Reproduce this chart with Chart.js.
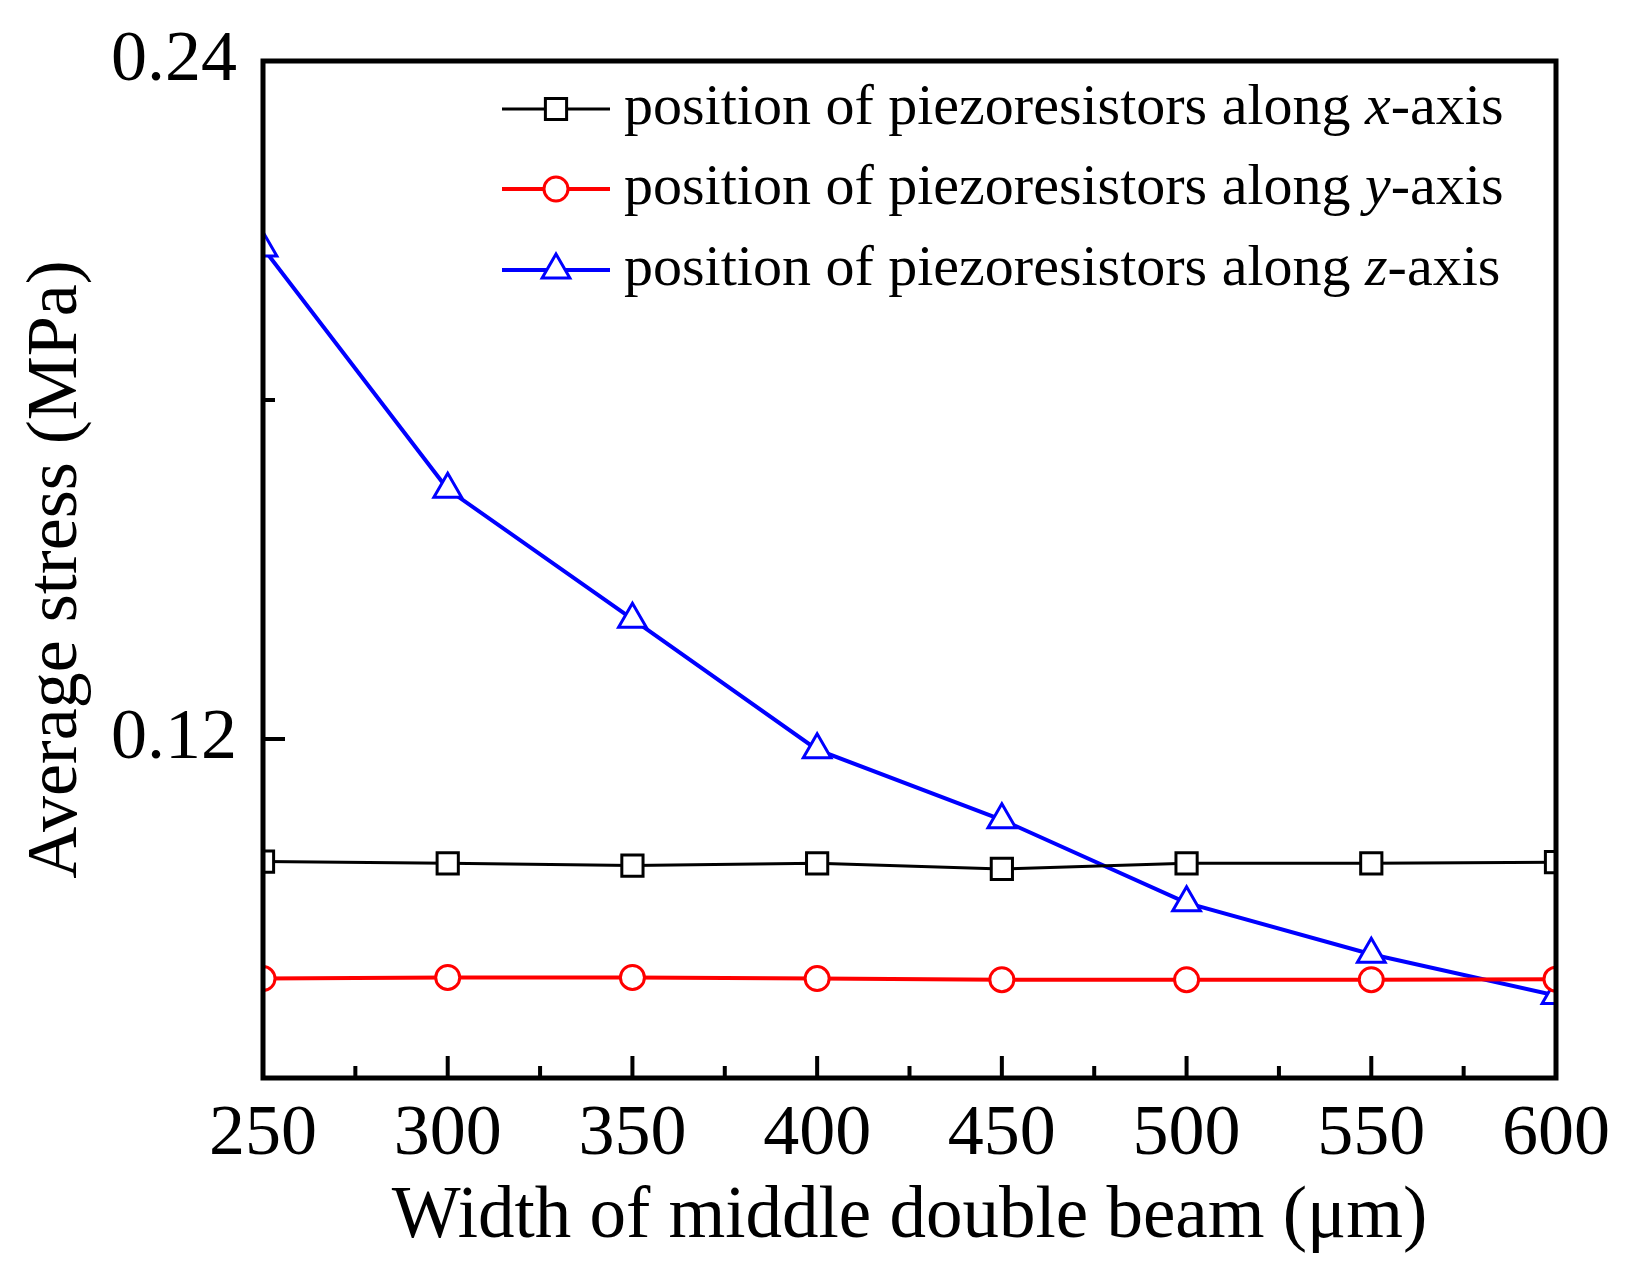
<!DOCTYPE html>
<html>
<head>
<meta charset="utf-8">
<script src="https://cdn.jsdelivr.net/npm/chart.js@4.4.1/dist/chart.umd.min.js"></script>
<style>
  html, body { margin: 0; padding: 0; background: #ffffff; }
  #wrap { width: 1632px; height: 1267px; }
  canvas { display: block; }
</style>
</head>
<body>
<div id="wrap"><canvas id="c" width="1632" height="1267"></canvas></div>
<script>
// ---- data ----
const beamWidths = [250, 300, 350, 400, 450, 500, 550, 600];
const stressAlongX = [0.0983, 0.0980, 0.0976, 0.0980, 0.0970, 0.0980, 0.0980, 0.0982];
const stressAlongY = [0.0776, 0.0778, 0.0778, 0.0776, 0.0774, 0.0774, 0.0774, 0.0775];
const stressAlongZ = [0.2069, 0.1642, 0.1412, 0.1181, 0.1057, 0.0910, 0.0819, 0.0746];

const xTickValues = [250, 300, 350, 400, 450, 500, 550, 600];
const xMinorTickValues = [275, 325, 375, 425, 475, 525, 575];
const yTickValues = [0.12, 0.24];
const yTickLabels = ['0.12', '0.24'];
const yMinorTickValues = [0.18];

const legendPrefix = 'position of piezoresistors along ';
const legendAxisLetters = ['x', 'y', 'z'];
const legendSuffix = '-axis';

const xTitle = 'Width of middle double beam (\u03bcm)';
const yTitle = 'Average stress (MPa)';

const FONT = "'Liberation Serif', 'Times New Roman', serif";

function pairs(ys) { return beamWidths.map((x, i) => ({ x: x, y: ys[i] })); }

// ---- plugins (axes decoration & legend) ----
const framePlugin = {
  id: 'frame',
  afterDraw(chart) {
    const ctx = chart.ctx;
    const a = chart.chartArea;
    const xs = chart.scales.x, ys = chart.scales.y;
    ctx.save();
    ctx.strokeStyle = '#000';
    ctx.lineCap = 'butt';
    ctx.lineWidth = 4;
    const majorLen = 22, minorLen = 12;
    ctx.beginPath();
    xTickValues.forEach(v => {
      const px = xs.getPixelForValue(v);
      ctx.moveTo(px, a.bottom); ctx.lineTo(px, a.bottom - majorLen);
    });
    xMinorTickValues.forEach(v => {
      const px = xs.getPixelForValue(v);
      ctx.moveTo(px, a.bottom); ctx.lineTo(px, a.bottom - minorLen);
    });
    yTickValues.forEach(v => {
      const py = ys.getPixelForValue(v);
      ctx.moveTo(a.left, py); ctx.lineTo(a.left + majorLen, py);
    });
    yMinorTickValues.forEach(v => {
      const py = ys.getPixelForValue(v);
      ctx.moveTo(a.left, py); ctx.lineTo(a.left + minorLen, py);
    });
    ctx.stroke();
    ctx.lineWidth = 5;
    ctx.strokeRect(a.left, a.top, a.right - a.left, a.bottom - a.top);
    ctx.restore();
  }
};

function drawMarker(ctx, style, x, y, r) {
  ctx.beginPath();
  if (style === 'rect') {
    const s = Math.SQRT1_2 * r;
    ctx.rect(x - s, y - s, 2 * s, 2 * s);
  } else if (style === 'circle') {
    ctx.arc(x, y, r, 0, Math.PI * 2);
  } else if (style === 'triangle') {
    let rad = 0;
    ctx.moveTo(x + Math.sin(rad) * r, y - Math.cos(rad) * r);
    rad += 2 * Math.PI / 3;
    ctx.lineTo(x + Math.sin(rad) * r, y - Math.cos(rad) * r);
    rad += 2 * Math.PI / 3;
    ctx.lineTo(x + Math.sin(rad) * r, y - Math.cos(rad) * r);
    ctx.closePath();
  }
  ctx.fill();
  ctx.stroke();
}

const legendPlugin = {
  id: 'insideLegend',
  afterDraw(chart) {
    const ctx = chart.ctx;
    const rowsY = [109, 189, 270];
    const lineX0 = 502, lineX1 = 610, markX = 556, textX = 624;
    ctx.save();
    chart.data.datasets.forEach((ds, i) => {
      const y = rowsY[i];
      ctx.strokeStyle = ds.borderColor;
      ctx.lineWidth = ds.borderWidth;
      ctx.beginPath();
      ctx.moveTo(lineX0, y); ctx.lineTo(lineX1, y);
      ctx.stroke();
      ctx.fillStyle = ds.pointBackgroundColor;
      ctx.strokeStyle = ds.pointBorderColor;
      ctx.lineWidth = ds.pointBorderWidth;
      drawMarker(ctx, ds.pointStyle, markX, y, ds.pointRadius);
      ctx.fillStyle = '#000';
      ctx.textBaseline = 'middle';
      ctx.textAlign = 'left';
      let x = textX;
      const parts = [
        { t: legendPrefix, f: '58px ' + FONT },
        { t: legendAxisLetters[i], f: 'italic 58px ' + FONT },
        { t: legendSuffix, f: '58px ' + FONT }
      ];
      parts.forEach(p => {
        ctx.font = p.f;
        ctx.fillText(p.t, x, y);
        x += ctx.measureText(p.t).width;
      });
    });
    ctx.restore();
  }
};

// ---- chart ----
const common = { fill: false, tension: 0, pointBackgroundColor: '#ffffff', pointBorderWidth: 3, pointHoverRadius: 0 };

new Chart(document.getElementById('c'), {
  type: 'line',
  data: {
    datasets: [
      Object.assign({}, common, {
        label: legendPrefix + 'x' + legendSuffix,
        data: pairs(stressAlongX),
        borderColor: '#000000', pointBorderColor: '#000000',
        borderWidth: 3, pointStyle: 'rect', pointRadius: 15
      }),
      Object.assign({}, common, {
        label: legendPrefix + 'y' + legendSuffix,
        data: pairs(stressAlongY),
        borderColor: '#ff0000', pointBorderColor: '#ff0000',
        borderWidth: 4, pointStyle: 'circle', pointRadius: 12
      }),
      Object.assign({}, common, {
        label: legendPrefix + 'z' + legendSuffix,
        data: pairs(stressAlongZ),
        borderColor: '#0000ff', pointBorderColor: '#0000ff',
        borderWidth: 4, pointStyle: 'triangle', pointRadius: 16
      })
    ]
  },
  options: {
    responsive: false,
    animation: false,
    devicePixelRatio: 1,
    layout: { padding: { top: 61, right: 76, left: 0, bottom: 0 } },
    plugins: { legend: { display: false }, tooltip: { enabled: false } },
    scales: {
      x: {
        type: 'linear',
        position: 'bottom',
        min: 250, max: 600,
        grid: { display: false, drawTicks: false },
        border: { display: false },
        afterBuildTicks: s => { s.ticks = xTickValues.map(v => ({ value: v })); },
        afterFit: s => { s.height = 189; },
        ticks: {
          color: '#000', padding: 14, maxRotation: 0, autoSkip: false,
          font: { family: FONT, size: 72 },
          callback: v => String(v)
        },
        title: {
          display: true, text: xTitle, color: '#000',
          font: { family: FONT, size: 73 },
          padding: { top: 0, bottom: 5 }
        }
      },
      y: {
        type: 'linear',
        position: 'left',
        min: 0.06, max: 0.24,
        grid: { display: false, drawTicks: false },
        border: { display: false },
        afterBuildTicks: s => { s.ticks = yTickValues.map(v => ({ value: v })); },
        afterFit: s => { s.width = 263; },
        ticks: {
          color: '#000', padding: 26,
          font: { family: FONT, size: 72, lineHeight: 0.9 },
          callback: (v, i) => yTickLabels[i]
        },
        title: {
          display: true, text: yTitle, color: '#000',
          font: { family: FONT, size: 72 },
          padding: { top: 14, bottom: 0 }
        }
      }
    }
  },
  plugins: [framePlugin, legendPlugin]
});
</script>
</body>
</html>
